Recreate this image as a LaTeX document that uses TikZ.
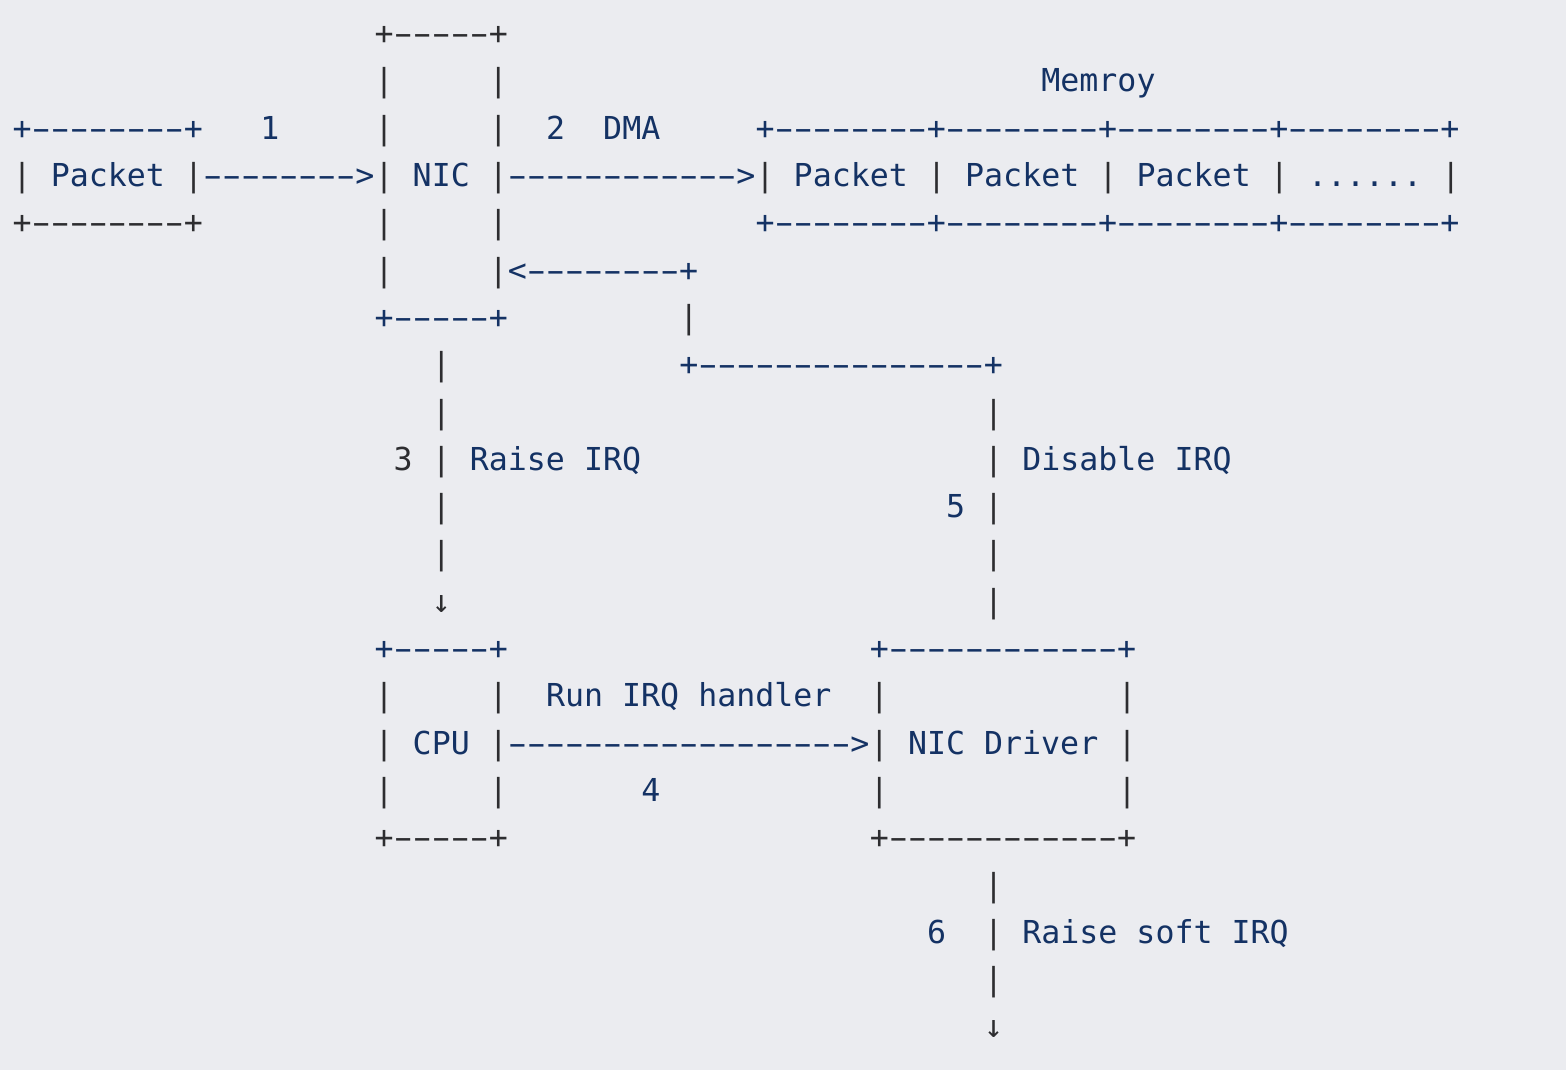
\documentclass[tikz,border=0pt]{standalone}
\usepackage{fontspec}
\usepackage{graphicx}
\setmonofont{DejaVu Sans Mono}
\definecolor{pagebg}{RGB}{235,236,240}
\definecolor{linegray}{RGB}{45,45,48}
\definecolor{labelblue}{RGB}{20,50,100}
\newcommand\hy{\makebox[0.602em][c]{\scalebox{1.75}[1]{-}}}
\newcommand\hyrun[1]{\foreach\k in {1,...,#1}{\hy}}
\tikzset{
  art/.style={anchor=base west, inner sep=0pt, outer sep=0pt, text=linegray,
    font=\ttfamily\fontsize{15.8pt}{23.65pt}\selectfont},
  artb/.style={art, text=labelblue},
}
\begin{document}
\begin{tikzpicture}[x=9.525pt, y=-23.65pt]
				\fill[pagebg] (-0.6667,-0.945) rectangle (81.54,21.677);
				\useasboundingbox (-0.6667,-0.945) rectangle (81.54,21.677);
				
				% NIC box and the first two steps
				\node[art] (nic-t) at (19,0) {+\hyrun{5}+};
				\node[art] (nic-l1) at (19,1) {|};
				\node[art] (nic-r1) at (25,1) {|};
				\node[artb] (mem-title) at (54,1) {Memroy};
				
				\node[artb] (pkt-t) at (0,2) {+\hyrun{8}+};
				\node[artb] (step1) at (13,2) {1};
				\node[art] (nic-l2) at (19,2) {|};
				\node[art] (nic-r2) at (25,2) {|};
				\node[artb] (step2) at (28,2) {2};
				\node[artb] (dma) at (31,2) {DMA};
				\node[artb] (mem-t) at (39,2) {+\hyrun{8}+\hyrun{8}+\hyrun{8}+\hyrun{8}+};
				
				\node[art] (pkt-l) at (0,3) {|};
				\node[artb] (pkt) at (2,3) {Packet};
				\node[art] (pkt-r) at (9,3) {|};
				\node[artb] (arr1) at (10,3) {\hyrun{8}>};
				\node[art] (nic-l3) at (19,3) {|};
				\node[artb] (nic) at (21,3) {NIC};
				\node[art] (nic-r3) at (25,3) {|};
				\node[artb] (arr2) at (26,3) {\hyrun{12}>};
				\node[art] (mem-l) at (39,3) {|};
				\node[artb] (mem-p1) at (41,3) {Packet};
				\node[art] (mem-s1) at (48,3) {|};
				\node[artb] (mem-p2) at (50,3) {Packet};
				\node[art] (mem-s2) at (57,3) {|};
				\node[artb] (mem-p3) at (59,3) {Packet};
				\node[art] (mem-s3) at (66,3) {|};
				\node[artb] (mem-more) at (68,3) {......};
				\node[art] (mem-r) at (75,3) {|};
				
				\node[art] (pkt-b) at (0,4) {+\hyrun{8}+};
				\node[art] (nic-l4) at (19,4) {|};
				\node[art] (nic-r4) at (25,4) {|};
				\node[artb] (mem-b) at (39,4) {+\hyrun{8}+\hyrun{8}+\hyrun{8}+\hyrun{8}+};
				
				\node[art] (nic-l5) at (19,5) {|};
				\node[art] (nic-r5) at (25,5) {|};
				\node[artb] (back-t) at (26,5) {<\hyrun{8}+};
				
				\node[artb] (nic-b) at (19,6) {+\hyrun{5}+};
				\node[art] (back-v) at (35,6) {|};
				
				% steps 3 and 5
				\node[art] (irq-v1) at (22,7) {|};
				\node[artb] (back-h) at (35,7) {+\hyrun{15}+};
				
				\node[art] (irq-v2) at (22,8) {|};
				\node[art] (dis-v1) at (51,8) {|};
				
				\node[art] (step3) at (20,9) {3};
				\node[art] (irq-v3) at (22,9) {|};
				\node[artb] (raise) at (24,9) {Raise IRQ};
				\node[art] (dis-v2) at (51,9) {|};
				\node[artb] (disable) at (53,9) {Disable IRQ};
				
				\node[art] (irq-v4) at (22,10) {|};
				\node[artb] (step5) at (49,10) {5};
				\node[art] (dis-v3) at (51,10) {|};
				
				\node[art] (irq-v5) at (22,11) {|};
				\node[art] (dis-v4) at (51,11) {|};
				
				\node[art] (irq-arr) at (22,12) {↓};
				\node[art] (dis-v5) at (51,12) {|};
				
				% CPU and NIC driver
				\node[artb] (cpu-t) at (19,13) {+\hyrun{5}+};
				\node[artb] (drv-t) at (45,13) {+\hyrun{12}+};
				
				\node[art] (cpu-l1) at (19,14) {|};
				\node[art] (cpu-r1) at (25,14) {|};
				\node[artb] (run) at (28,14) {Run IRQ handler};
				\node[art] (drv-l1) at (45,14) {|};
				\node[art] (drv-r1) at (58,14) {|};
				
				\node[art] (cpu-l2) at (19,15) {|};
				\node[artb] (cpu) at (21,15) {CPU};
				\node[art] (cpu-r2) at (25,15) {|};
				\node[artb] (arr4) at (26,15) {\hyrun{18}>};
				\node[art] (drv-l2) at (45,15) {|};
				\node[artb] (drv) at (47,15) {NIC Driver};
				\node[art] (drv-r2) at (58,15) {|};
				
				\node[art] (cpu-l3) at (19,16) {|};
				\node[art] (cpu-r3) at (25,16) {|};
				\node[artb] (step4) at (33,16) {4};
				\node[art] (drv-l3) at (45,16) {|};
				\node[art] (drv-r3) at (58,16) {|};
				
				\node[art] (cpu-b) at (19,17) {+\hyrun{5}+};
				\node[art] (drv-b) at (45,17) {+\hyrun{12}+};
				
				% step 6
				\node[art] (soft-v1) at (51,18) {|};
				\node[artb] (step6) at (48,19) {6};
				\node[art] (soft-v2) at (51,19) {|};
				\node[artb] (soft) at (53,19) {Raise soft IRQ};
				\node[art] (soft-v3) at (51,20) {|};
				\node[art] (soft-arr) at (51,21) {↓};
			\end{tikzpicture}
\end{document}
